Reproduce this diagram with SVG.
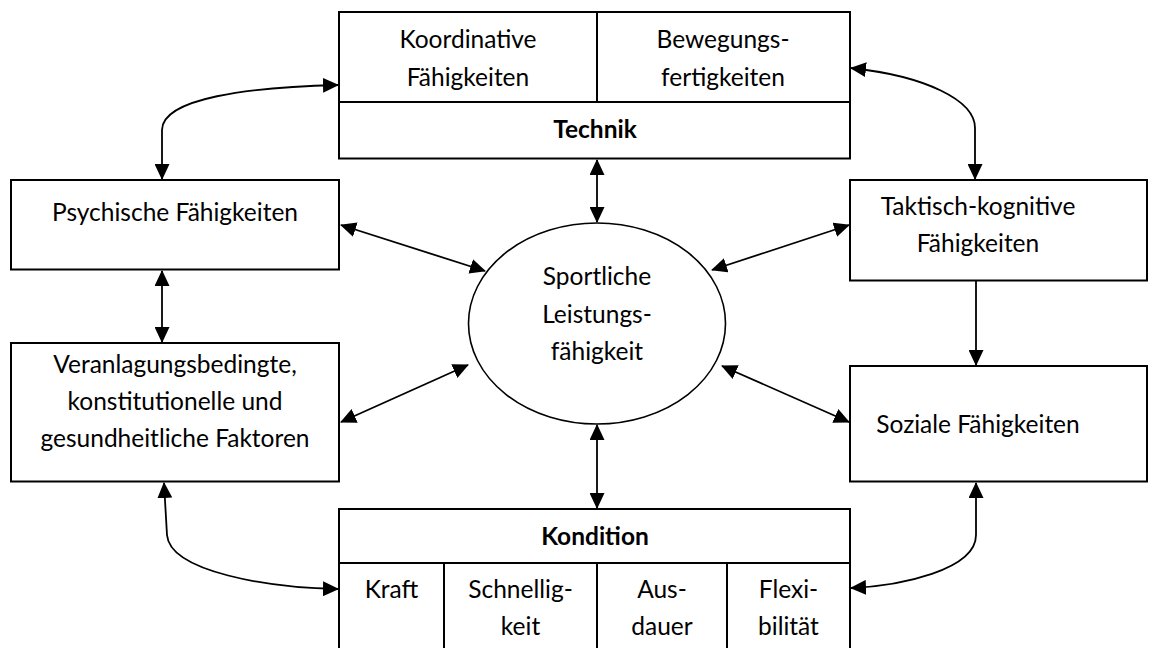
<svg xmlns="http://www.w3.org/2000/svg" width="1157" height="648" viewBox="0 0 1157 648">
  <style>
    .box { fill: #ffffff; stroke: #000000; stroke-width: 2; }
    .sep { fill: none; stroke: #000000; stroke-width: 2; }
    .ell { fill: #ffffff; stroke: #000000; stroke-width: 1.6; }
    .lbl { font-family: Lato, "Liberation Sans", sans-serif; font-size: 24.5px; fill: #000000; text-anchor: middle; }
    .bold { font-weight: bold; }
    .con { fill: none; stroke: #000000; stroke-width: 1.8; }
    .two { marker-start: url(#ah); marker-end: url(#ah); }
    .one { marker-end: url(#ah); }
  </style>
  <defs>
    <marker id="ah" viewBox="0 0 16 15" refX="15" refY="7.5" markerWidth="16" markerHeight="15" markerUnits="userSpaceOnUse" orient="auto-start-reverse">
      <path d="M0,0 L16,7.5 L0,15 z" fill="#000000"/>
    </marker>
  </defs>

  <rect width="1157" height="648" fill="#ffffff"/>

  <!-- connectors -->
  <g id="connectors">
    <!-- Technik <-> centre -->
    <path class="con two" d="M597,160 L597,222"/>
    <!-- centre <-> Kondition -->
    <path class="con two" d="M597,425 L597,508"/>
    <!-- Psychische <-> Veranlagung -->
    <path class="con two" d="M162,271 L162,342"/>
    <!-- Taktisch -> Soziale -->
    <path class="con one" d="M976,281 L976,365"/>
    <!-- diagonals -->
    <path class="con two" d="M341,225 L485,271"/>
    <path class="con two" d="M341,422 L468,365"/>
    <path class="con two" d="M849,225 L712,270"/>
    <path class="con two" d="M849,422 L722,366"/>
    <!-- curved links -->
    <path class="con two" d="M162,179 L162,130 C162,98 250,87 338,85"/>
    <path class="con two" d="M851,68 C925,76 975,100 975,128 L975,179"/>
    <path class="con two" d="M164,483 L167,535 C170,572 270,588 338,589"/>
    <path class="con two" d="M976,483 L976,535 C976,570 900,586 851,588"/>
  </g>

  <!-- Technik block -->
  <g id="technik">
    <rect class="box" x="339" y="12" width="511" height="146.5"/>
    <path class="sep" d="M339,102 L850,102 M597,12 L597,102"/>
    <text class="lbl" x="468" y="48">Koordinative</text>
    <text class="lbl" x="468" y="86">Fähigkeiten</text>
    <text class="lbl" x="723" y="48">Bewegungs-</text>
    <text class="lbl" x="723" y="86">fertigkeiten</text>
    <text class="lbl bold" x="595" y="138">Technik</text>
  </g>

  <!-- Psychische Fähigkeiten -->
  <g id="psychisch">
    <rect class="box" x="11" y="180" width="328" height="89.5"/>
    <text class="lbl" x="175" y="221">Psychische Fähigkeiten</text>
  </g>

  <!-- Veranlagung -->
  <g id="veranlagung">
    <rect class="box" x="11" y="343" width="328" height="138.5"/>
    <text class="lbl" x="175" y="373">Veranlagungsbedingte,</text>
    <text class="lbl" x="175" y="410">konstitutionelle und</text>
    <text class="lbl" x="175" y="447">gesundheitliche Faktoren</text>
  </g>

  <!-- Taktisch-kognitive Fähigkeiten -->
  <g id="taktisch">
    <rect class="box" x="850" y="180" width="297" height="100.5"/>
    <text class="lbl" x="978" y="215">Taktisch-kognitive</text>
    <text class="lbl" x="978" y="252">Fähigkeiten</text>
  </g>

  <!-- Soziale Fähigkeiten -->
  <g id="sozial">
    <rect class="box" x="850" y="366" width="297" height="115.5"/>
    <text class="lbl" x="978" y="433">Soziale Fähigkeiten</text>
  </g>

  <!-- centre -->
  <g id="leistung">
    <ellipse class="ell" cx="597" cy="323.5" rx="128.5" ry="100.5"/>
    <text class="lbl" x="597" y="285">Sportliche</text>
    <text class="lbl" x="597" y="323">Leistungs-</text>
    <text class="lbl" x="597" y="360">fähigkeit</text>
  </g>

  <!-- Kondition block -->
  <g id="kondition">
    <rect class="box" x="339" y="509" width="511" height="150"/>
    <path class="sep" d="M339,563 L850,563 M444,563 L444,650 M597,563 L597,650 M727,563 L727,650"/>
    <text class="lbl bold" x="595" y="545">Kondition</text>
    <text class="lbl" x="391.5" y="598">Kraft</text>
    <text class="lbl" x="520.5" y="598">Schnellig-</text>
    <text class="lbl" x="520.5" y="635">keit</text>
    <text class="lbl" x="662" y="598">Aus-</text>
    <text class="lbl" x="662" y="635">dauer</text>
    <text class="lbl" x="788.5" y="598">Flexi-</text>
    <text class="lbl" x="788.5" y="635">bilität</text>
  </g>
</svg>
